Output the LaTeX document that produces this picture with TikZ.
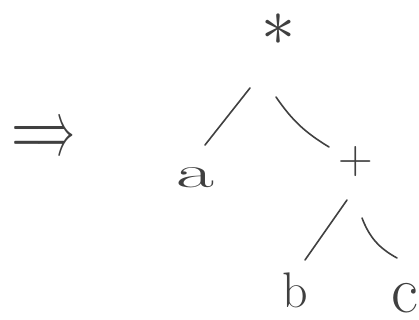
\documentclass[tikz,border=0pt]{standalone}
\usepackage{fontspec}
\usepackage{graphicx}
\tikzset{
  ink/.style={draw=black!75, line width=1.6pt, line cap=round},
  lbl/.style={inner sep=0pt, text=black!75},
}
\begin{document}
\begin{tikzpicture}[x=1pt,y=1pt]
\useasboundingbox (0,0) rectangle (419,-320);
\node[lbl] (arr) at (44,-140) {\resizebox{62pt}{28pt}{$\Longrightarrow$}};
\node[lbl] (star) at (278,-30) {\resizebox{34pt}{!}{$\ast$}};
\node[lbl] (a) at (195,-178) {\resizebox{38pt}{20pt}{\fontsize{50}{50}\selectfont a}};
\node[lbl] (plus) at (356,-162) {\fontsize{48}{48}\selectfont +};
\node[lbl] (b) at (295,-290) {\fontsize{50}{50}\selectfont b};
\node[lbl] (c) at (405,-298) {\fontsize{66}{66}\selectfont c};
\draw[ink] ([shift={(-28pt,-58pt)}]star.center) -- ([shift={(10pt,33pt)}]a.center);
\draw[ink] ([shift={(-2pt,-67pt)}]star.center) to[bend right=12] ([shift={(-27pt,15pt)}]plus.center);
\draw[ink] ([shift={(-9pt,-38pt)}]plus.center) -- ([shift={(10pt,30pt)}]b.center);
\draw[ink] ([shift={(6pt,-56pt)}]plus.center) to[bend right=20] ([shift={(-8pt,40pt)}]c.center);
\end{tikzpicture}
\end{document}
